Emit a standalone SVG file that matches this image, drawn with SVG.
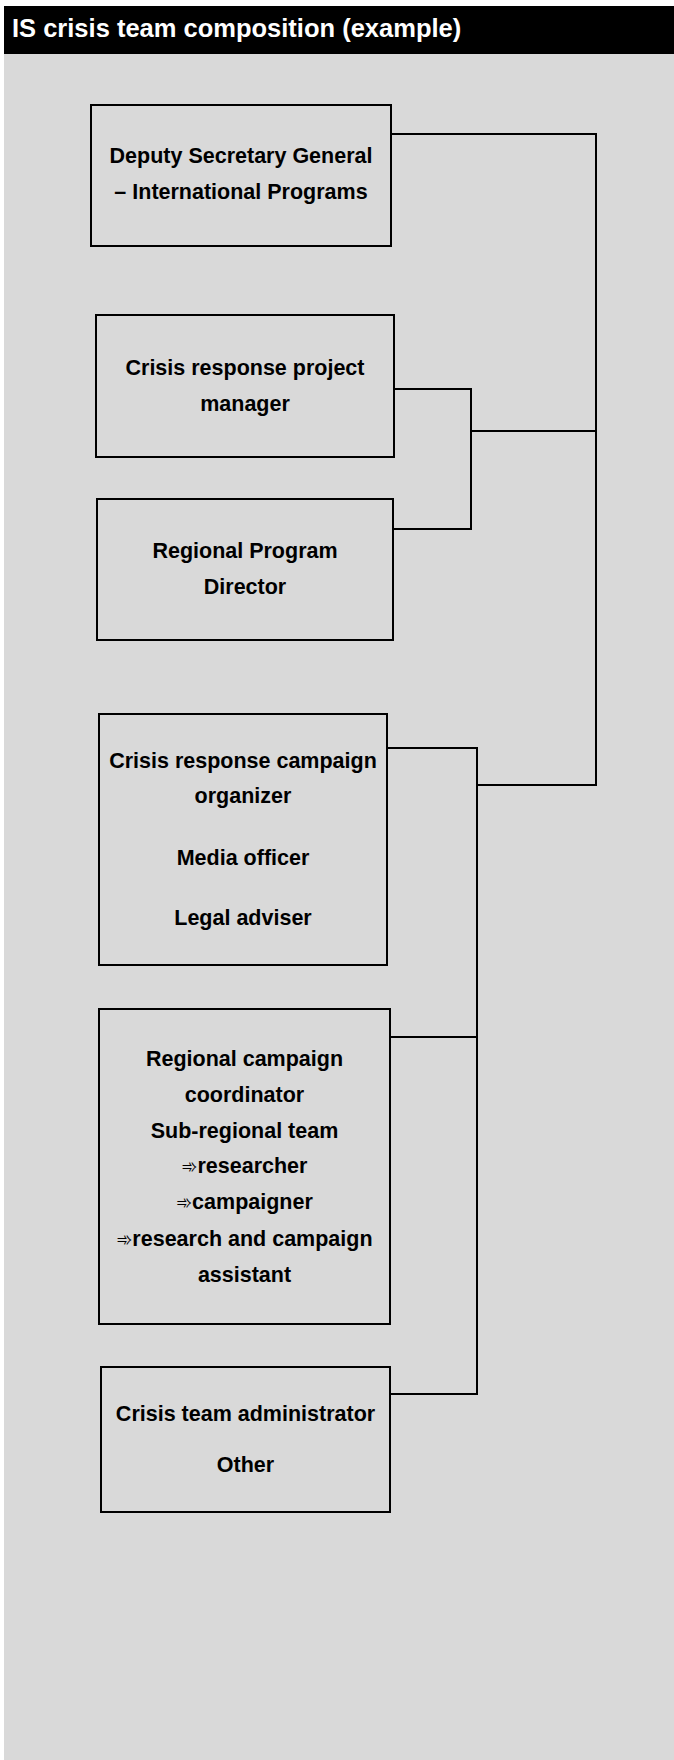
<svg xmlns="http://www.w3.org/2000/svg" width="674" height="1760" viewBox="0 0 674 1760">
<style>
.box{fill:#d9d9d9;stroke:#000;stroke-width:2}
.lbl{font-family:"Liberation Sans",Arial,sans-serif;font-weight:bold;font-size:21.5px;fill:#000;text-anchor:middle}
.arw{font-family:"DejaVu Sans",sans-serif;font-weight:normal;font-size:19px}
.con{fill:none;stroke:#000;stroke-width:2}
</style>
<rect x="0" y="0" width="674" height="1760" fill="#ffffff"/>
<rect x="4" y="6" width="670" height="48" fill="#000000"/>
<rect x="4" y="54" width="670" height="1706" fill="#d9d9d9"/>
<text x="12" y="37" font-family="Liberation Sans,Arial,sans-serif" font-weight="bold" font-size="25.5" fill="#ffffff">IS crisis team composition (example)</text>

<g id="connectors">
<polyline class="con" points="391,134 596,134 596,785 477,785"/>
<polyline class="con" points="394,389 471,389 471,529 393,529"/>
<line class="con" x1="471" y1="431" x2="596" y2="431"/>
<polyline class="con" points="387,748 477,748 477,1394 390,1394"/>
<line class="con" x1="390" y1="1037" x2="477" y2="1037"/>
</g>

<g id="node-dsg">
<rect class="box" x="91" y="105" width="300" height="141"/>
<text class="lbl" x="241" y="163">Deputy Secretary General</text>
<text class="lbl" x="241" y="199">– International Programs</text>
</g>

<g id="node-crpm">
<rect class="box" x="96" y="315" width="298" height="142"/>
<text class="lbl" x="245" y="375">Crisis response project</text>
<text class="lbl" x="245" y="411">manager</text>
</g>

<g id="node-rpd">
<rect class="box" x="97" y="499" width="296" height="141"/>
<text class="lbl" x="245" y="558">Regional Program</text>
<text class="lbl" x="245" y="594">Director</text>
</g>

<g id="node-crco">
<rect class="box" x="99" y="714" width="288" height="251"/>
<text class="lbl" x="243" y="768">Crisis response campaign</text>
<text class="lbl" x="243" y="803">organizer</text>
<text class="lbl" x="243" y="865">Media officer</text>
<text class="lbl" x="243" y="925">Legal adviser</text>
</g>

<g id="node-rcc">
<rect class="box" x="99" y="1009" width="291" height="315"/>
<text class="lbl" x="244.5" y="1066">Regional campaign</text>
<text class="lbl" x="244.5" y="1102">coordinator</text>
<text class="lbl" x="244.5" y="1138">Sub-regional team</text>
<text class="lbl" x="244.5" y="1173"><tspan class="arw">➾</tspan>researcher</text>
<text class="lbl" x="244.5" y="1209"><tspan class="arw">➾</tspan>campaigner</text>
<text class="lbl" x="244.5" y="1246"><tspan class="arw">➾</tspan>research and campaign</text>
<text class="lbl" x="244.5" y="1282">assistant</text>
</g>

<g id="node-cta">
<rect class="box" x="101" y="1367" width="289" height="145"/>
<text class="lbl" x="245.5" y="1421">Crisis team administrator</text>
<text class="lbl" x="245.5" y="1472">Other</text>
</g>
</svg>
